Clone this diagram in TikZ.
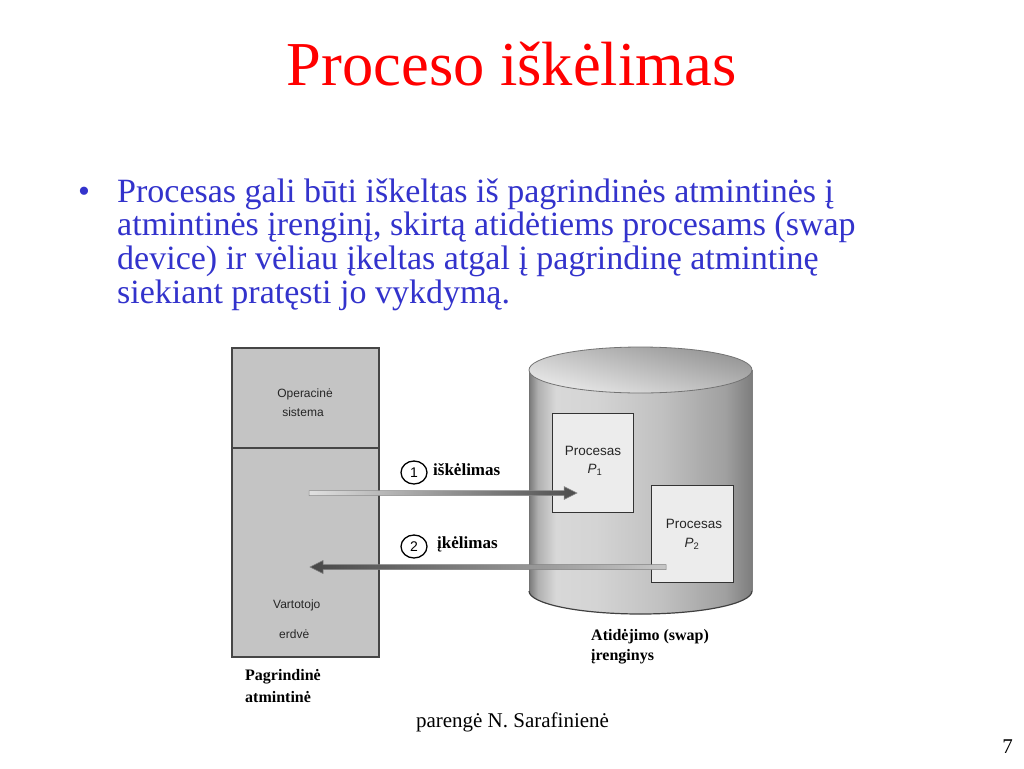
\documentclass[tikz,border=0pt]{standalone}
\usepackage{fontspec}
\setmainfont{Liberation Serif}
\newfontfamily\arialf{Liberation Sans}
\usetikzlibrary{calc,shapes.geometric}
\definecolor{slideblue}{RGB}{51,51,204}
\definecolor{boxgray}{RGB}{196,196,196}
\definecolor{boxedge}{RGB}{70,70,70}
\definecolor{pfill}{RGB}{236,236,236}
\definecolor{cA}{RGB}{120,120,120}
\definecolor{cB}{RGB}{176,176,176}
\definecolor{cC}{RGB}{216,216,216}
\definecolor{cD}{RGB}{212,212,212}
\definecolor{cE}{RGB}{192,192,192}
\definecolor{cF}{RGB}{160,160,160}
\definecolor{cG}{RGB}{125,125,125}
\pgfdeclarehorizontalshading{cylbody}{100bp}{color(0bp)=(cA); color(25bp)=(cA); color(27bp)=(cB); color(31bp)=(cC); color(40bp)=(cD); color(55bp)=(cE); color(69bp)=(cF); color(75bp)=(cG); color(100bp)=(cG)}
\begin{document}
\begin{tikzpicture}[x=1pt,y=1pt,
  titletxt/.style={inner sep=0, text=red, font=\fontsize{62.5}{62.5}\selectfont},
  bultxt/.style={inner sep=0, text=slideblue, font=\fontsize{34}{36}\selectfont},
  sanstxt/.style={inner sep=0, text=black!85, font=\arialf\fontsize{12}{14}\selectfont},
  ptxt/.style={inner sep=0, text=black!85, font=\arialf\fontsize{13.5}{15}\selectfont},
  lbltxt/.style={inner sep=0, text=black, font=\fontsize{16}{19}\selectfont\bfseries},
  arrlbl/.style={inner sep=0, text=black, font=\fontsize{17}{19}\selectfont\bfseries},
  foottxt/.style={inner sep=0, text=black, font=\fontsize{21}{24}\selectfont},
  membox/.style={draw=boxedge, line width=1.8, fill=boxgray, inner sep=0, anchor=north west, minimum width=147},
  procbox/.style={draw=black!80, line width=1.3, fill=pfill, inner sep=0, anchor=north west},
  numcirc/.style={ellipse, draw=black, line width=1.3, inner sep=0, minimum width=26, minimum height=23, font=\arialf\fontsize{14}{16}\selectfont}
]
\useasboundingbox (0,0) rectangle (1024,-768);
\fill[white] (0,0) rectangle (1024,-768);

% title
\node[titletxt, anchor=base] (title) at (511.5,-85) {Proceso iškėlimas};

% bullet text
\node[bultxt, anchor=base] (dot) at (84,-202) {\textbullet};
\node[bultxt, anchor=base west] (l1) at (117,-202) {Procesas gali būti iškeltas iš pagrindinės atmintinės į};
\node[bultxt, anchor=base west] (l2) at (117,-235.7) {atmintinės įrenginį, skirtą atidėtiems procesams (swap};
\node[bultxt, anchor=base west] (l3) at (117,-269.3) {device) ir vėliau įkeltas atgal į pagrindinę atmintinę};
\node[bultxt, anchor=base west] (l4) at (117,-303) {siekiant pratęsti jo vykdymą.};

% main memory
\node[membox, minimum height=100] (os) at (231,-347) {};
\node[membox, minimum height=209] (user) at (231,-447) {};
\node[sanstxt, anchor=base] (os1) at (305,-397) {Operacinė};
\node[sanstxt, anchor=base] (os2) at (303,-416) {sistema};
\node[sanstxt, anchor=base west] (us1) at (273,-608) {Vartotojo};
\node[sanstxt, anchor=base west] (us2) at (279,-638) {erdvė};
\node[lbltxt, anchor=base west] (pm1) at (245,-680) {Pagrindinė};
\node[lbltxt, anchor=base west] (pm2) at (245,-702) {atmintinė};

% swap device cylinder
\shade[shading=cylbody] (529,-370) rectangle (752,-591);
\shade[shading=cylbody] (640.5,-591) ellipse [x radius=111.5, y radius=23];
\begin{scope}
  \clip (520,-591) rectangle (760,-620);
  \draw[black!75, line width=1.2] (640.5,-591) ellipse [x radius=111.5, y radius=23];
\end{scope}
\draw[black!55, line width=1] (529,-370) -- (529,-591);
\draw[black!50, line width=0.8] (752,-370) -- (752,-591);
\shade[top color=black!42, bottom color=black!8, shading angle=-15, draw=black!55, line width=0.8] (640.5,-370) ellipse [x radius=111.5, y radius=23];

\node[procbox, minimum width=81, minimum height=99] (p1) at (552,-413) {};
\node[procbox, minimum width=82, minimum height=97] (p2) at (651,-485) {};
\node[ptxt, anchor=base] (p1a) at (593,-455) {Procesas};
\node[ptxt, anchor=base] (p1b) at (595,-473) {\itshape P\textsubscript{\upshape 1}};
\node[ptxt, anchor=base] (p2a) at (694,-528) {Procesas};
\node[ptxt, anchor=base] (p2b) at (692,-547) {\itshape P\textsubscript{\upshape 2}};
\node[lbltxt, anchor=base west] (sw1) at (591,-640) {Atidėjimo (swap)};
\node[lbltxt, anchor=base west] (sw2) at (591,-660) {įrenginys};

% arrows
\coordinate (a1s) at ($(user.north west)+(78,-46)$);
\coordinate (a1e) at ($(p1.north west)+(25,-80)$);
\coordinate (a2s) at ($(p2.north west)+(15,-82)$);
\coordinate (a2e) at ($(user.north west)+(79,-120)$);
\shade[left color=black!12, right color=black!70, draw=black!45, line width=0.5]
  ($(a1s)+(0,2.5)$) -- ($(a1e)+(-13,2.5)$) -- ($(a1e)+(-13,6.5)$) -- (a1e)
  -- ($(a1e)+(-13,-6.5)$) -- ($(a1e)+(-13,-2.5)$) -- ($(a1s)+(0,-2.5)$) -- cycle;
\shade[left color=black!72, right color=black!22, draw=black!50, line width=0.5]
  ($(a2s)+(0,2.5)$) -- ($(a2e)+(13,2.5)$) -- ($(a2e)+(13,6.5)$) -- (a2e)
  -- ($(a2e)+(13,-6.5)$) -- ($(a2e)+(13,-2.5)$) -- ($(a2s)+(0,-2.5)$) -- cycle;

\node[numcirc] (c1) at (414,-472.5) {1};
\node[arrlbl, anchor=base west] (t1) at (433,-475) {iškėlimas};
\node[numcirc] (c2) at (414,-546.5) {2};
\node[arrlbl, anchor=base west] (t2) at (437,-548) {įkėlimas};

% footer
\node[foottxt, anchor=base] (foot) at (512.5,-727) {parengė N. Sarafinienė};
\node[foottxt, anchor=base east] (pg) at (1013,-753) {7};
\end{tikzpicture}
\end{document}
